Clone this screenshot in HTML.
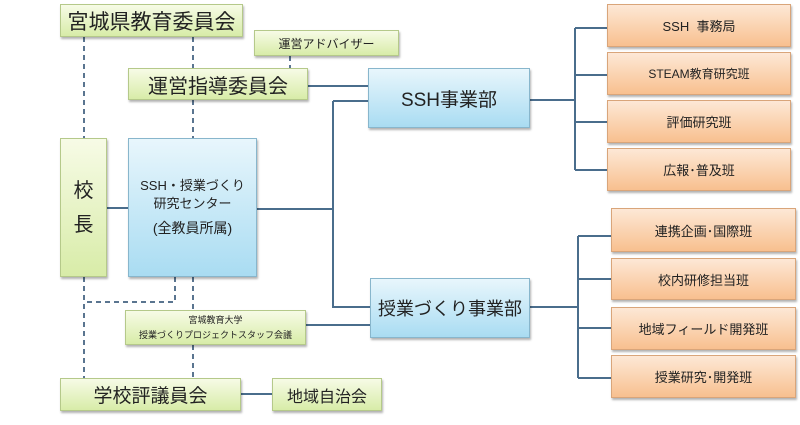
<!DOCTYPE html>
<html><head><meta charset="utf-8"><style>
body{margin:0;width:800px;height:425px;background:#fff;overflow:hidden;font-family:"Liberation Sans","Noto Sans CJK JP",sans-serif}
.b{position:absolute;box-sizing:border-box;display:flex;align-items:center;justify-content:center;text-align:center;color:#222;box-shadow:1px 2px 2px rgba(0,0,0,.3)}
.g{background:linear-gradient(#f7fbe6,#d8eca8);border:1px solid #b5c98a}
.c{background:linear-gradient(#e8f6fc,#a9dcf2);border:1px solid #88b6cc}
.o{background:linear-gradient(#fde8d6,#f8c08f);border:1px solid #d9a57a;font-size:13px}
svg{position:absolute;left:0;top:0}
</style></head><body>
<svg width="800" height="425">
<g stroke="#4a6d8c" stroke-width="2" fill="none">
<path d="M307 86H368M333 101H368M333 101V307H370M257 209H333M107 208H128M305 325H370"/>
<path d="M530 100H575M575 28V170M575 28H607M575 75H607M575 122H607M575 170H607"/>
<path d="M530 307H578M578 236V378M578 236H611M578 279H611M578 328H611M578 378H611"/>
<path d="M240 394H272"/>
</g>
<g stroke="#5a7590" stroke-width="2" stroke-dasharray="5,4" fill="none">
<path d="M84 37V138M84 277V378M193 37V68M193 100V138M193 277V310M193 345V378M175 277V302H84M290 56V68"/>
</g>
</svg>
<div class="b g" style="left:60px;top:4px;width:183px;height:33px;font-size:21px">宮城県教育委員会</div>
<div class="b g" style="left:254px;top:30px;width:145px;height:26px;font-size:12px">運営アドバイザー</div>
<div class="b g" style="left:128px;top:68px;width:180px;height:32px;font-size:20px">運営指導委員会</div>
<div class="b g" style="left:60px;top:138px;width:47px;height:139px;font-size:20px;line-height:34px">校<br>長</div>
<div class="b c" style="left:128px;top:138px;width:129px;height:139px;font-size:13px;line-height:18px;flex-direction:column;justify-content:flex-start;padding-top:38px">SSH・授業づくり<br>研究センター<div style="font-size:14px;margin-top:6px">(全教員所属)</div></div>
<div class="b c" style="left:368px;top:68px;width:162px;height:60px;font-size:19px">SSH事業部</div>
<div class="b c" style="left:370px;top:278px;width:160px;height:60px;font-size:18px">授業づくり事業部</div>
<div class="b g" style="left:125px;top:310px;width:181px;height:35px;font-size:9px;line-height:15px">宮城教育大学<br>授業づくりプロジェクトスタッフ会議</div>
<div class="b g" style="left:60px;top:378px;width:181px;height:33px;font-size:19px">学校評議員会</div>
<div class="b g" style="left:272px;top:378px;width:110px;height:33px;font-size:16px">地域自治会</div>
<div class="b o" style="left:607px;top:4px;width:184px;height:43px">SSH&nbsp; 事務局</div>
<div class="b o" style="left:607px;top:52px;width:184px;height:43px;font-size:12px">STEAM教育研究班</div>
<div class="b o" style="left:607px;top:100px;width:184px;height:43px">評価研究班</div>
<div class="b o" style="left:607px;top:148px;width:184px;height:43px">広報･普及班</div>
<div class="b o" style="left:611px;top:208px;width:185px;height:44px">連携企画･国際班</div>
<div class="b o" style="left:611px;top:258px;width:185px;height:42px">校内研修担当班</div>
<div class="b o" style="left:611px;top:307px;width:185px;height:43px">地域フィールド開発班</div>
<div class="b o" style="left:611px;top:355px;width:185px;height:43px">授業研究･開発班</div>
</body></html>
